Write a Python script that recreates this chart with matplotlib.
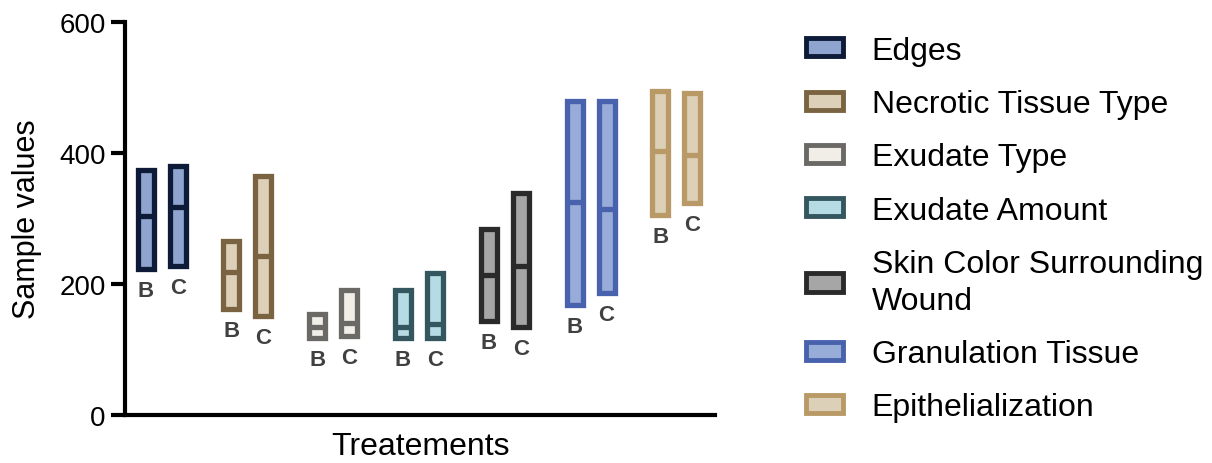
import matplotlib
matplotlib.use("Agg")
import matplotlib.pyplot as plt
from matplotlib.patches import Patch
import numpy as np

plt.rcParams['font.family'] = ['Liberation Sans', 'DejaVu Sans']

categories = ['Edges', 'Necrotic Tissue Type', 'Exudate Type', 'Exudate Amount',
              'Skin Color Surrounding\nWound', 'Granulation Tissue', 'Epithelialization']
groups = ['B', 'C']
B_min = [223, 162, 118, 118, 143, 168, 305]
B_max = [374, 266, 154, 190, 283, 479, 494]
B_mid = [304, 218, 134, 135, 214, 325, 403]
C_min = [227, 151, 120, 118, 135, 186, 323]
C_max = [380, 364, 190, 216, 338, 479, 491]
C_mid = [318, 243, 141, 139, 228, 315, 397]

edge_colors = ['#0d1a38', '#7a6340', '#6a6966', '#34565e', '#2a2a2a', '#4862ad', '#b99a66']
fill_colors = ['#8fa5cf', '#ddd0b8', '#f1eee8', '#b5dbe5', '#a6a6a6', '#98acd8', '#ddd0b8']

fig = plt.figure(figsize=(12.12, 4.64), dpi=100)
ax = fig.add_axes([125/1212, 48/464, 590/1212, 393.3/464])

width = 0.186
off = 0.1865
lw = 3.8
x = np.arange(len(categories))
for i in range(len(categories)):
    for g, (mn, mx, md) in enumerate([(B_min, B_max, B_mid), (C_min, C_max, C_mid)]):
        xc = x[i] + (-off if g == 0 else off)
        ax.bar(xc, mx[i] - mn[i], bottom=mn[i], width=width,
               facecolor=fill_colors[i], edgecolor=edge_colors[i], linewidth=lw,
               joinstyle='miter', zorder=2)
        ax.hlines(md[i], xc - width / 2, xc + width / 2, colors=edge_colors[i],
                  linewidth=lw, capstyle='butt', zorder=3)
        ax.annotate(groups[g], xy=(xc, mn[i]), xytext=(0, -8), textcoords='offset points',
                    ha='center', va='top', fontsize=16, fontweight='bold', color='#404040')

ax.set_xlim(-0.427, 6.45)
ax.set_ylim(0, 600)
ax.set_yticks([0, 200, 400, 600])
ax.set_xticks([])
for s in ['top', 'right']:
    ax.spines[s].set_visible(False)
for s in ['left', 'bottom']:
    ax.spines[s].set_linewidth(3.0)
ax.tick_params(axis='y', length=10, width=3.0, labelsize=20, pad=4)

ax.set_ylabel('Sample values', fontsize=22)
ax.yaxis.set_label_coords(-0.1415, 0.5)
ax.set_xlabel('Treatements', fontsize=23)
ax.xaxis.set_label_coords(0.5, -0.04)

handles = [Patch(facecolor=fill_colors[i], edgecolor=edge_colors[i], linewidth=3.5,
                 joinstyle='miter') for i in range(len(categories))]
leg = fig.legend(handles, categories, loc='upper left', bbox_to_anchor=(0.6649, 0.921),
                 frameon=False, fontsize=23, handlelength=1.16, handleheight=0.5,
                 handletextpad=0.9, labelspacing=0.73, borderpad=0, borderaxespad=0)
for t in leg.get_texts():
    t.set_linespacing(1.3)

fig.savefig('out.png', dpi=100)
